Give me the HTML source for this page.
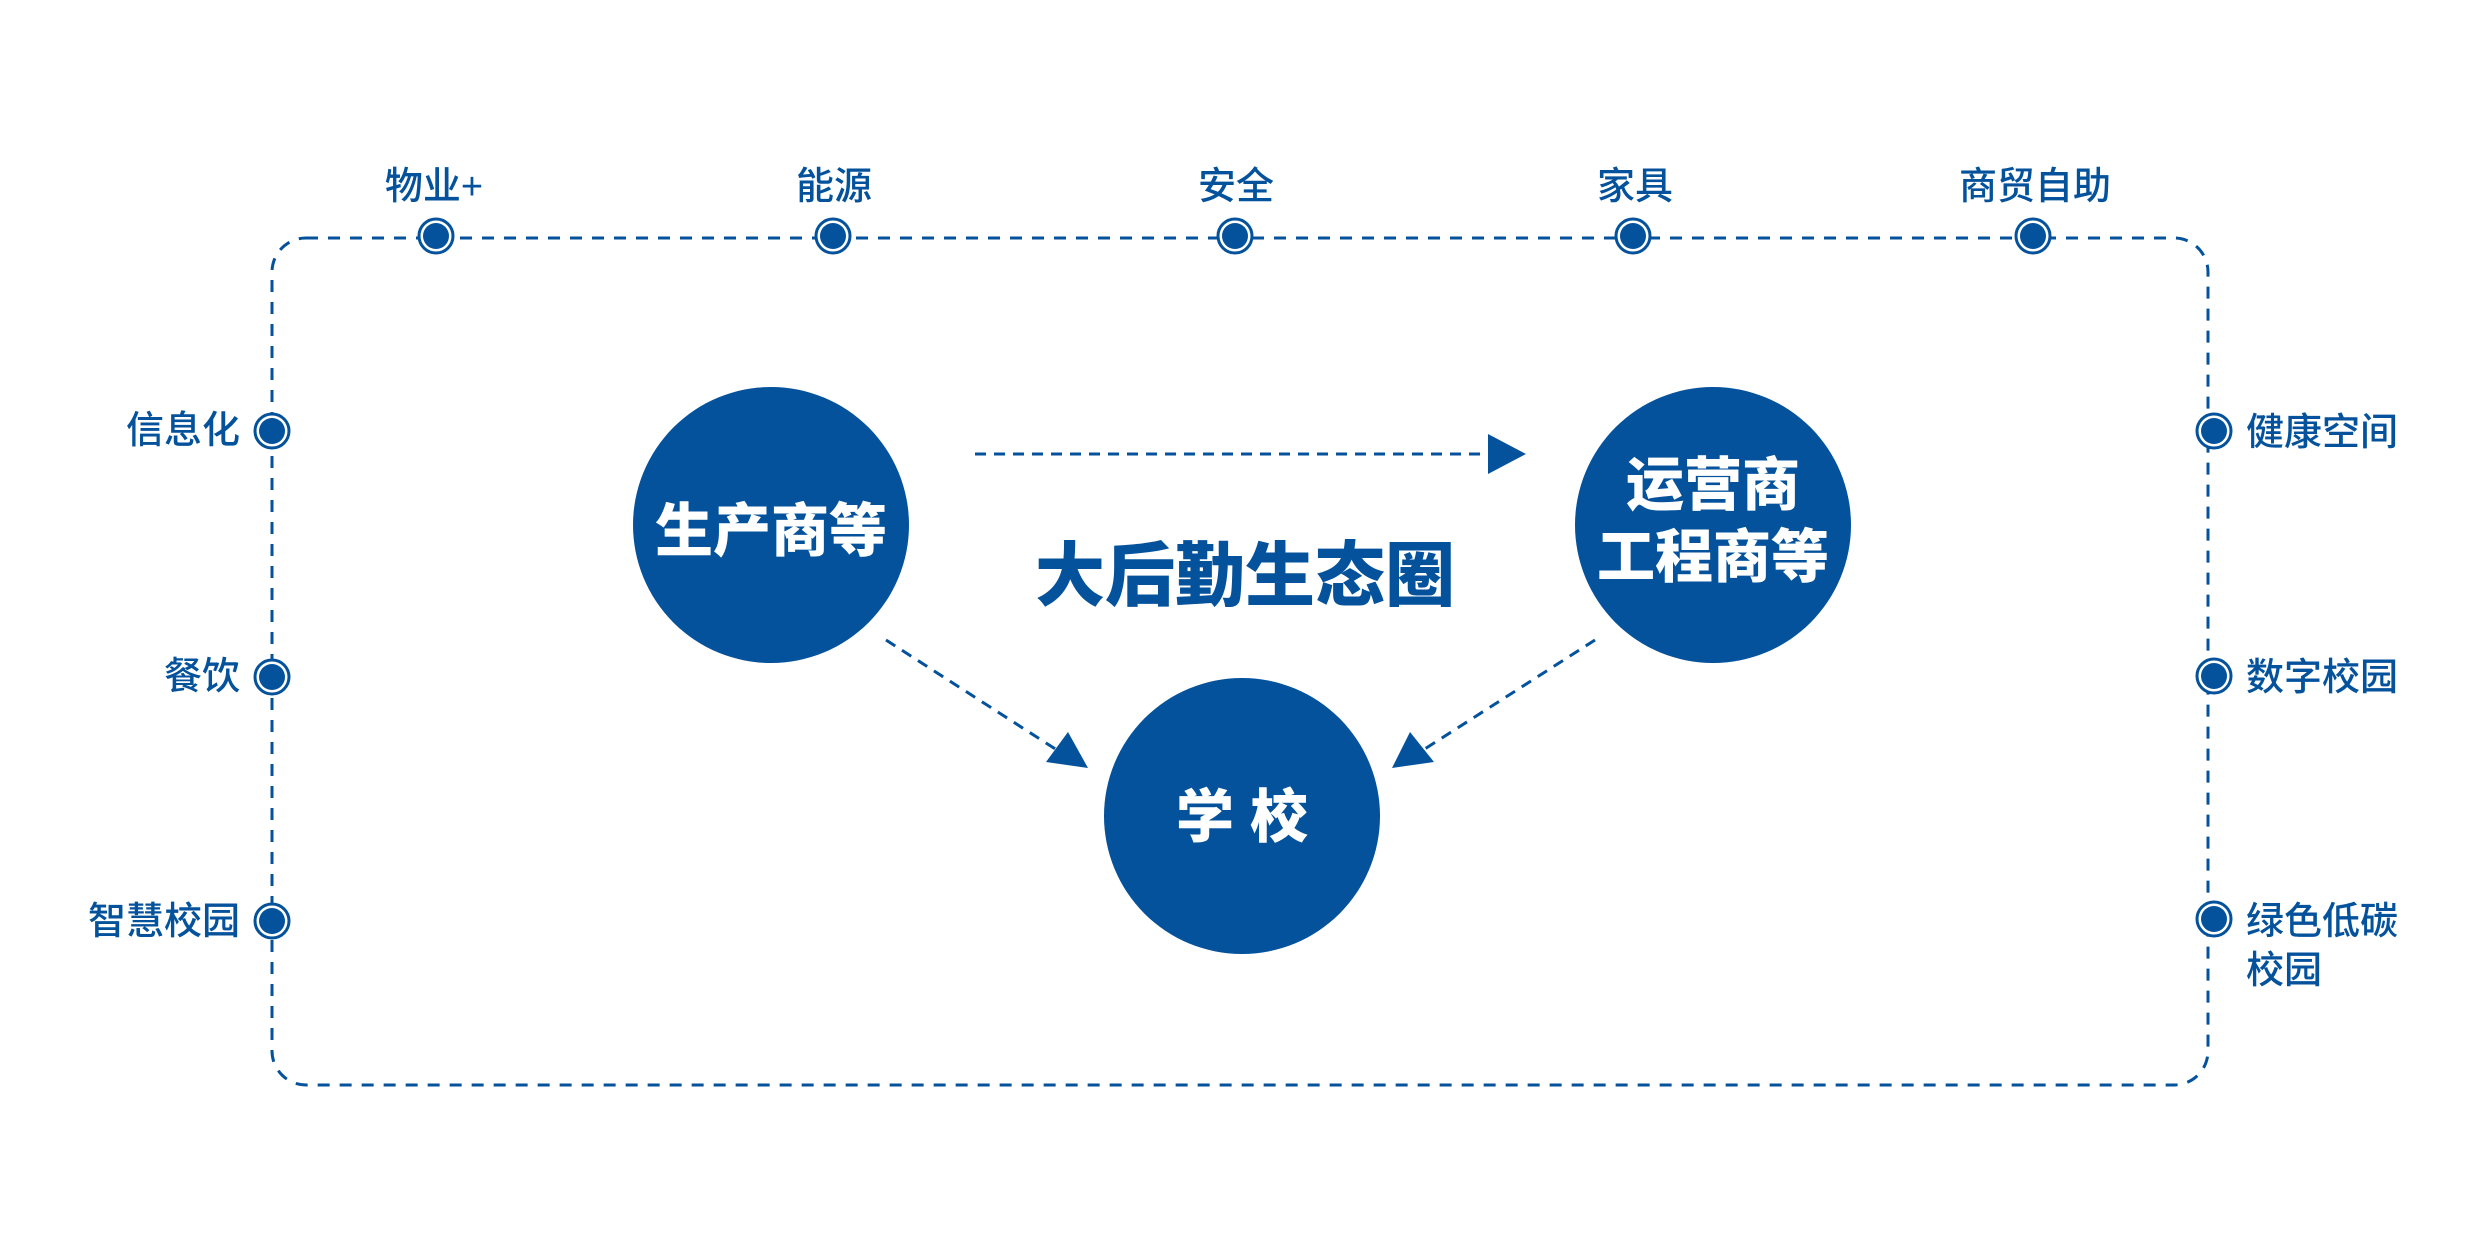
<!DOCTYPE html>
<html><head><meta charset="utf-8"><style>
html,body{margin:0;padding:0;background:#fff;width:2488px;height:1250px;overflow:hidden}
svg{display:block}
text{font-family:"Liberation Sans","Noto Sans CJK SC",sans-serif}
.l{font-size:38px;fill:#04529c;font-weight:500}
.c{font-size:58px;fill:#fff;font-weight:900}
</style></head><body>
<svg width="2488" height="1250" viewBox="0 0 2488 1250">
<defs>
<g id="d"><circle r="17" fill="#fff" stroke="#04529c" stroke-width="3"/><circle r="13" fill="#04529c"/></g>
</defs>
<rect x="272" y="238" width="1936" height="847" rx="34" fill="none" stroke="#04529c" stroke-width="3" stroke-dasharray="12 10"/>
<g class="l" text-anchor="middle">
<text x="434" y="199" class="l">物业+</text>
<text x="834" y="199" class="l">能源</text>
<text x="1236" y="199" class="l">安全</text>
<text x="1635" y="199" class="l">家具</text>
<text x="2035" y="199" class="l">商贸自助</text>
</g>
<use href="#d" x="436" y="236"/><use href="#d" x="833" y="236"/><use href="#d" x="1235" y="236"/><use href="#d" x="1633" y="236"/><use href="#d" x="2033" y="236"/>
<text x="240" y="443" class="l" text-anchor="end">信息化</text>
<text x="240" y="689" class="l" text-anchor="end">餐饮</text>
<text x="240" y="934" class="l" text-anchor="end">智慧校园</text>
<use href="#d" x="272" y="431"/><use href="#d" x="272" y="677"/><use href="#d" x="272" y="921"/>
<text x="2246" y="445" class="l">健康空间</text>
<text x="2246" y="690" class="l">数字校园</text>
<text x="2246" y="934" class="l">绿色低碳</text>
<text x="2246" y="983" class="l">校园</text>
<use href="#d" x="2214" y="431"/><use href="#d" x="2214" y="676"/><use href="#d" x="2214" y="919"/>
<circle cx="771" cy="525" r="138" fill="#04529c"/>
<circle cx="1713" cy="525" r="138" fill="#04529c"/>
<circle cx="1242" cy="816" r="138" fill="#04529c"/>
<text x="771" y="551" class="c" text-anchor="middle">生产商等</text>
<text x="1713" y="505" class="c" text-anchor="middle">运营商</text>
<text x="1713" y="577" class="c" text-anchor="middle">工程商等</text>
<text x="1242" y="837" class="c" text-anchor="middle">学 校</text>
<text x="1245" y="600" text-anchor="middle" style="font-size:70px;font-weight:900;fill:#04529c">大后勤生态圈</text>
<g stroke="#04529c" stroke-width="3" stroke-dasharray="11 8" fill="none">
<line x1="975" y1="454" x2="1490" y2="454"/>
<line x1="886" y1="640" x2="1060" y2="752"/>
<line x1="1595" y1="640" x2="1420" y2="752"/>
</g>
<g fill="#04529c">
<polygon points="1488,434 1526,454 1488,474"/>
<polygon points="1088,768 1046,762 1068,732"/>
<polygon points="1392,768 1410,732 1434,762"/>
</g>
</svg>
</body></html>
